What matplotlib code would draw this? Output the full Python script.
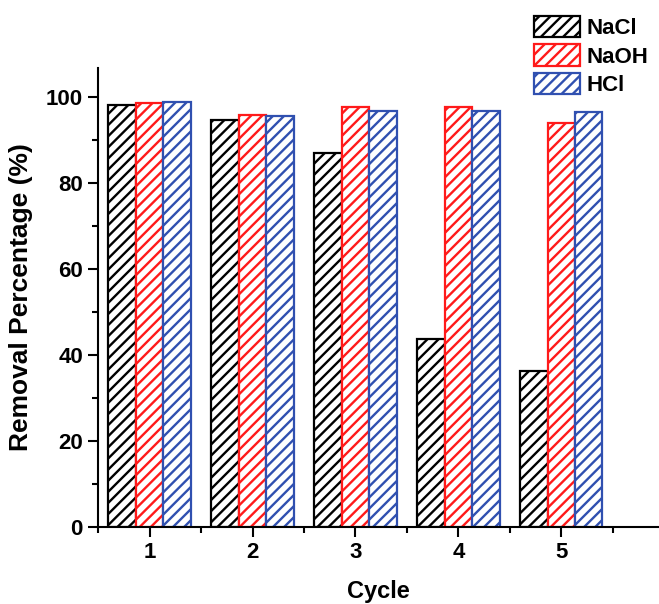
import matplotlib.pyplot as plt
import numpy as np

plt.rcParams['font.family'] = ['Liberation Sans', 'DejaVu Sans']
plt.rcParams['font.weight'] = 'bold'
plt.rcParams['hatch.linewidth'] = 1.7

cycles = [1, 2, 3, 4, 5]
nacl = [98.1, 94.7, 87.0, 43.6, 36.3]
naoh = [98.5, 95.8, 97.6, 97.6, 93.9]
hcl = [98.8, 95.6, 96.7, 96.6, 96.4]

labels = ['NaCl', 'NaOH', 'HCl']
colors = ['black', '#ff1a1a', '#3050b0']

fig = plt.figure(figsize=(6.59, 6.04), dpi=100)
ax = fig.add_axes([0.149, 0.1275, 0.851, 0.76])

x = np.array(cycles)
w = 0.8 / 3
for i, (vals, c, lab) in enumerate(zip([nacl, naoh, hcl], colors, labels)):
    plt.rcParams['hatch.color'] = c
    ax.bar(x + (i - 1) * w, vals, w, facecolor='white', edgecolor=c,
           hatch='///', linewidth=1.6, label=lab)

ax.set_xlim(0.5, 5.95)
ax.set_ylim(0, 106.7)
ax.set_xticks(cycles)
ax.set_xticks(np.arange(0.5, 6, 1), minor=True)
ax.set_yticks(np.arange(0, 101, 20))
ax.set_yticks(np.arange(10, 101, 20), minor=True)

for s in ['top', 'right']:
    ax.spines[s].set_visible(False)
for s in ['left', 'bottom']:
    ax.spines[s].set_linewidth(1.5)

ax.tick_params(axis='both', which='major', direction='out', length=7,
               width=1.5, labelsize=16, pad=4)
ax.tick_params(axis='both', which='minor', direction='out', length=4,
               width=1.5)

ax.set_xlabel('Cycle', fontsize=17, fontweight='bold', labelpad=12)
ax.set_ylabel('Removal Percentage (%)', fontsize=19, fontweight='bold',
              labelpad=9)

fig.legend(loc='upper right', bbox_to_anchor=(1.008, 1.0), frameon=False,
           fontsize=16, handlelength=2.1, handleheight=1.1,
           labelspacing=0.25, handletextpad=0.3, borderpad=0.2)

fig.savefig('out.png', dpi=100)
